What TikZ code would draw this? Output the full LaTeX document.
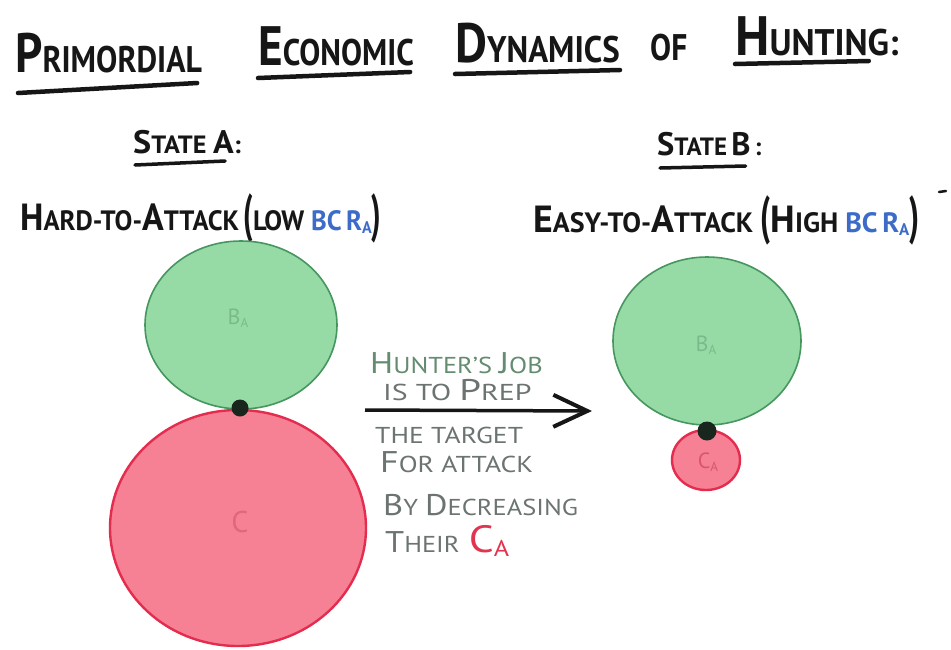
\documentclass[tikz,border=0pt]{standalone}
\usepackage{fontspec}
\setmainfont{PT Sans}
\usetikzlibrary{arrows.meta,calc}
\definecolor{gfill}{RGB}{150,219,166}
\definecolor{gline}{RGB}{70,150,95}
\definecolor{rfill}{RGB}{246,128,148}
\definecolor{rline}{RGB}{228,45,78}
\definecolor{ink}{RGB}{22,22,22}
\definecolor{dotc}{RGB}{25,38,30}
\definecolor{bcr}{RGB}{60,108,200}
\definecolor{pencil}{RGB}{108,116,112}
\definecolor{pgreen}{RGB}{100,140,112}
\definecolor{cared}{RGB}{226,52,80}
\newcommand\BL[1]{\scalebox{\blr}{#1}}
\def\blr{1.4}
\newcommand\Sub[1]{\raisebox{-0.25ex}{\scalebox{0.6}{#1}}}
\newcommand\LP{\raisebox{-1pt}{\scalebox{1.1}[1.9]{(}}}
\newcommand\RP{\raisebox{-1pt}{\scalebox{1.1}[1.9]{)}}}
\tikzset{
  word/.style={anchor=base west,inner sep=0pt,text=ink},
  titlew/.style={word,font=\def\blr{1.5}\bfseries\fontsize{37}{37}\selectfont},
  statew/.style={word,font=\def\blr{1.3}\bfseries\fontsize{25}{25}\selectfont},
  subw/.style={word,font=\def\blr{1.35}\bfseries\fontsize{28}{28}\selectfont},
  notew/.style={word,text=pencil,font=\def\blr{1.3}\fontsize{23}{23}\selectfont},
  uline/.style={line width=4.5pt,line cap=round,ink},
  suline/.style={line width=3.5pt,line cap=round,ink},
  ben/.style={fill=gfill,draw=gline,line width=1.6pt},
  cost/.style={fill=rfill,draw=rline,line width=2.4pt},
  joint/.style={circle,fill=dotc,inner sep=0pt,minimum size=17pt},
  faint/.style={inner sep=0pt,opacity=0.25,font=\fontsize{22}{22}\selectfont}
}
\begin{document}
\begin{tikzpicture}[x=1pt,y=-1pt]
\useasboundingbox (0,0) rectangle (951,649);
\fill[white] (0,0) rectangle (951,649);
% title
\node[titlew] (t1) at (15,72) {\scalebox{0.86}[1]{\BL{P}RIMORDIAL}};
\node[titlew] (t2) at (258,65) {\scalebox{0.85}[1]{\BL{E}CONOMIC}};
\node[titlew] (t3) at (455,62) {\scalebox{0.89}[1]{\BL{D}YNAMICS}};
\node[titlew] (t4) at (650,60) {\scalebox{0.85}[1]{OF}};
\node[titlew] (t5) at (735,55) {\scalebox{0.95}[1]{\BL{H}UNTING:}};
\draw[uline] ($(t1.base west)+(3,21)$) -- ($(t1.base east)+(-5,11)$);
\draw[uline] ($(t2.base west)+(0,13)$) -- ($(t2.base east)+(-4,7)$);
\draw[uline] ($(t3.base west)+(0,12)$) -- ($(t3.base east)+(0,8)$);
\draw[uline] ($(t5.base west)+(0,9)$) -- ($(t5.base east)+(-30,6)$);
% states
\node[statew] (sa) at (133,153) {\scalebox{1.05}[1]{\BL{S}TATE \BL{A}:}};
\draw[suline] ($(sa.base west)+(2,12)$) -- ($(sa.base east)+(-16,8)$);
\node[subw] (da) at (20,230) {\scalebox{0.95}[1]{\BL{H}ARD-TO-\BL{A}TTACK\,\LP LOW \textcolor{bcr}{BC\,R\Sub{A}}\RP}};
\node[statew] (sb) at (657,155) {\scalebox{1.0}[1]{\BL{S}TATE\,\BL{B}\,:}};
\draw[suline] ($(sb.base west)+(3,13)$) -- ($(sb.base east)+(-16,11)$);
\node[subw] (db) at (533,232) {\scalebox{1.0}[1]{\BL{E}ASY-TO-\BL{A}TTACK \LP\BL{H}IGH \textcolor{bcr}{BC\,R\Sub{A}}\RP}};
\coordinate (dsh1) at (939,192);
\coordinate (dsh2) at (946,191);
\draw[line width=2.5pt,ink,line cap=round] (dsh1) -- (dsh2);
% state A shapes
\draw[ben] (241,325) ellipse [x radius=96, y radius=84];
\draw[cost] (238,528) ellipse [x radius=128, y radius=118];
\node[faint,text=gline!60!black] (ba) at (238,318) {B\Sub{A}};
\node[faint,text=rline!70!black,font=\fontsize{30}{30}\selectfont] (ca) at (240,522) {C};
\node[joint] (ja) at (240,408) {};
% state B shapes
\draw[ben] (707,341) ellipse [x radius=94, y radius=84];
\draw[cost] (706,460) ellipse [x radius=34, y radius=30];
\node[faint,text=gline!60!black] (bb) at (706,345) {B\Sub{A}};
\node[inner sep=0pt,opacity=0.45,text=rline!80!black,font=\fontsize{22}{22}\selectfont] (cb) at (708,462) {C\Sub{A}};
\node[joint,minimum size=19pt] (jb) at (707,431) {};
% arrow
\coordinate (arS) at (365,410);
\coordinate (arE) at (592,411);
\draw[line width=3.5pt,ink,-{Straight Barb[length=34pt,width=32pt,line width=4pt]}] (arS) -- (arE);
% arrow text
\node[notew,text=pgreen] (n1) at (370,373) {\scalebox{1.15}[1]{\BL{H}UNTER'S \BL{J}OB}};
\node[notew] (n2) at (383,400) {\scalebox{1.3}[1]{IS TO \BL{P}REP}};
\node[notew] (n3) at (375,443) {\scalebox{1.2}[1]{THE TARGET}};
\node[notew] (n4) at (380,472) {\scalebox{1.2}[1]{\BL{F}OR ATTACK}};
\node[notew] (n5) at (383,515) {\scalebox{1.15}[1]{\BL{B}Y \BL{D}ECREASING}};
\node[notew] (n6) at (385,552) {\scalebox{1.15}[1]{\BL{T}HEIR\hspace{8pt}\textcolor{cared}{\fontsize{38}{38}\selectfont C\Sub{A}}}};
\end{tikzpicture}
\end{document}
